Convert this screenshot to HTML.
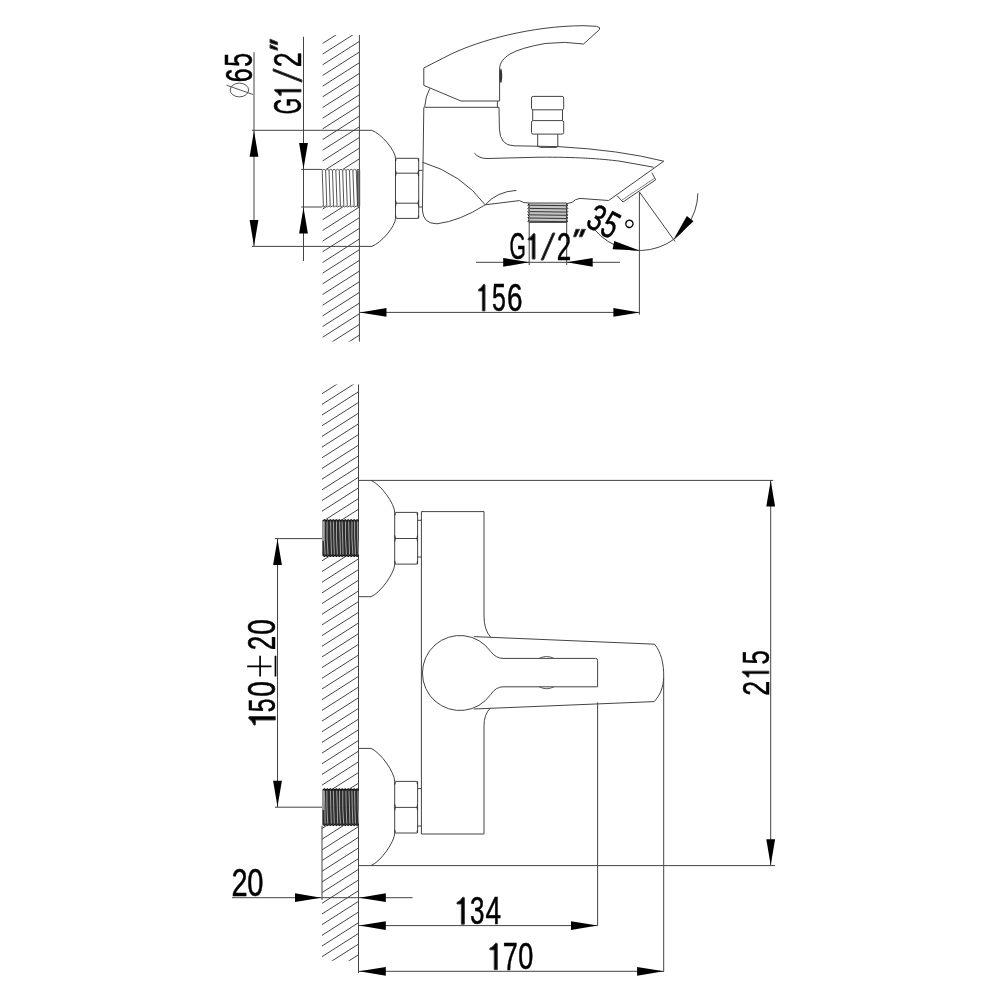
<!DOCTYPE html>
<html><head><meta charset="utf-8"><style>
html,body{margin:0;padding:0;background:#fff;}
svg{display:block;will-change:transform;}
.t text{font-family:"Liberation Sans",sans-serif;font-size:100px;fill:#000;stroke:#000;stroke-width:0.45px;vector-effect:non-scaling-stroke;}
</style></head><body>
<svg width="1000" height="1000" viewBox="0 0 1000 1000">
<rect width="1000" height="1000" fill="#fff"/>
<g fill="none" stroke="#444" stroke-width="1" stroke-linejoin="round">
<clipPath id="c0"><rect x="322.4" y="35" width="37" height="134.3"/></clipPath>
<path clip-path="url(#c0)" d="M322.4 22.24L359.4 -1.36M322.4 32.92L359.4 9.32M322.4 43.6L359.4 20M322.4 54.28L359.4 30.68M322.4 64.96L359.4 41.36M322.4 75.64L359.4 52.04M322.4 86.32L359.4 62.72M322.4 97L359.4 73.4M322.4 107.68L359.4 84.08M322.4 118.36L359.4 94.76M322.4 129.04L359.4 105.44M322.4 139.72L359.4 116.12M322.4 150.4L359.4 126.8M322.4 161.08L359.4 137.48M322.4 171.76L359.4 148.16M322.4 182.44L359.4 158.84M322.4 193.12L359.4 169.52M322.4 203.8L359.4 180.2" stroke="#3a3a3a" stroke-width="0.95"/>
<clipPath id="c2"><rect x="322.4" y="207" width="37" height="134.6"/></clipPath>
<path clip-path="url(#c2)" d="M322.4 187.86L359.4 164.26M322.4 198.54L359.4 174.94M322.4 209.22L359.4 185.62M322.4 219.9L359.4 196.3M322.4 230.58L359.4 206.98M322.4 241.26L359.4 217.66M322.4 251.94L359.4 228.34M322.4 262.62L359.4 239.02M322.4 273.3L359.4 249.7M322.4 283.98L359.4 260.38M322.4 294.66L359.4 271.06M322.4 305.34L359.4 281.74M322.4 316.02L359.4 292.42M322.4 326.7L359.4 303.1M322.4 337.38L359.4 313.78M322.4 348.06L359.4 324.46M322.4 358.74L359.4 335.14M322.4 369.42L359.4 345.82M322.4 380.1L359.4 356.5" stroke="#3a3a3a" stroke-width="0.95"/>
<line x1="359.4" y1="35" x2="359.4" y2="341.6"/>
<path d="M322.2 170.3L323.9 169.3L325.61 170.3L327.31 169.3L329.02 170.3L330.72 169.3L332.43 170.3L334.13 169.3L335.84 170.3L337.54 169.3L339.25 170.3L340.95 169.3L342.65 170.3L344.36 169.3L346.06 170.3L347.77 169.3L349.47 170.3L351.18 169.3L352.88 170.3L354.59 169.3L356.29 170.3L358 169.3L359.7 170.3M322.2 206L323.9 207L325.61 206L327.31 207L329.02 206L330.72 207L332.43 206L334.13 207L335.84 206L337.54 207L339.25 206L340.95 207L342.65 206L344.36 207L346.06 206L347.77 207L349.47 206L351.18 207L352.88 206L354.59 207L356.29 206L358 207L359.7 206" stroke="#555"/>
<path d="M322.2 170.3L323.4 206M325.61 170.3L326.81 206M329.02 170.3L330.22 206M332.43 170.3L333.63 206M335.84 170.3L337.04 206M339.25 170.3L340.45 206M342.65 170.3L343.85 206M346.06 170.3L347.26 206M349.47 170.3L350.67 206M352.88 170.3L354.08 206M356.29 170.3L357.49 206M359.7 170.3L359.7 206" stroke="#555"/>
<rect x="357.1" y="170.3" width="1.6" height="35.7" fill="#444" stroke="none"/>
<line x1="252" y1="130.3" x2="371.7" y2="130.3"/>
<line x1="252" y1="246.4" x2="372" y2="246.4"/>
<line x1="301.2" y1="169.4" x2="322.2" y2="169.4"/>
<line x1="301.2" y1="207" x2="322.2" y2="207"/>
<line x1="254" y1="52.2" x2="254" y2="246.4"/>
<polygon points="254,130.8 258.4,156.8 249.6,156.8" fill="#000" stroke="none"/>
<polygon points="254,246 249.6,220 258.4,220" fill="#000" stroke="none"/>
<line x1="303.5" y1="36.8" x2="303.5" y2="261"/>
<polygon points="303.5,169 299.1,143 307.9,143" fill="#000" stroke="none"/>
<polygon points="303.5,207.4 307.9,233.4 299.1,233.4" fill="#000" stroke="none"/>
<path d="M371.7 130.3C381.62 133.8 395.5 150.85 395.5 158.3"/>
<path d="M395.5 218.4C395.5 225.85 381.62 242.9 371.7 246.4"/>
<rect x="395.5" y="158.3" width="23.2" height="60.1" rx="0.8"/>
<line x1="395.5" y1="173.2" x2="418.7" y2="173.2"/>
<line x1="395.5" y1="203.2" x2="418.7" y2="203.2"/>
<path d="M395.5 158.3Q396.5 159.5 395.5 161.3M418.7 158.3Q417.7 159.5 418.7 161.3M395.5 170.2Q396.8 173.2 395.5 176.2M418.7 170.2Q417.4 173.2 418.7 176.2M395.5 200.2Q396.8 203.2 395.5 206.2M418.7 200.2Q417.4 203.2 418.7 206.2M395.5 218.4Q396.5 217.2 395.5 215.4M418.7 218.4Q417.7 217.2 418.7 215.4" stroke="#333" stroke-width="1.1"/>
<path d="M418.7 170.4H422.4M418.7 207H422.4"/>
<path d="M423.8 107.3L422.4 210Q423 223.8 437 223.8Q460 221 485.2 204.8"/>
<path d="M422.4 162.2Q462 174 485.2 204.8"/>
<path d="M485.2 204.8Q497 191.4 516.4 190.4"/>
<path d="M485.2 204.8L519.4 200.6L524 202.6L529 203"/>
<line x1="424.6" y1="107.3" x2="499" y2="107.3"/>
<path d="M429.8 88.4Q425.5 96 424.6 107.3"/>
<path d="M499 107.3L499.4 129Q500 145.6 514 145.8L558 146.6Q620 150 663.8 161.2"/>
<path d="M474.4 153.2Q479 158.6 487 158.5L540 157.2C575 157 600 158.6 620 161.2L653.6 167.2"/>
<path d="M663.8 161.2L608.6 200.5L580 198.4Q575 199 572 202.4L566.6 203.6"/>
<path d="M617 195.7L623 202L655.7 179.8L651.8 172.6"/>
<line x1="621.8" y1="200.2" x2="654.6" y2="178.2" stroke="#666" stroke-width="0.8"/>
<rect x="529" y="203.4" width="37.6" height="19" fill="#c4c4c4" stroke="none"/>
<path d="M529 203H566.6V222.4H529Z"/>
<path d="M529.5 205.2L566.2 205.7M529.5 208.4L566.2 208.9M529.5 211.6L566.2 212.1M529.5 214.8L566.2 215.3M529.5 218L566.2 218.5M529.5 221.2L566.2 221.7" stroke="#333"/>
<path d="M529 204L527.8 205.2L529 206.4M566.6 204L567.8 205.2L566.6 206.4M529 207.2L527.8 208.4L529 209.6M566.6 207.2L567.8 208.4L566.6 209.6M529 210.4L527.8 211.6L529 212.8M566.6 210.4L567.8 211.6L566.6 212.8M529 213.6L527.8 214.8L529 216M566.6 213.6L567.8 214.8L566.6 216M529 216.8L527.8 218L529 219.2M566.6 216.8L567.8 218L566.6 219.2M529 220L527.8 221.2L529 222.4M566.6 220L567.8 221.2L566.6 222.4" stroke="#222"/>
<path d="M423.8 68L450 54.6C480 40 532 26 583 25.7L596.5 26.3Q601 27.3 599.5 29.5L583.6 44Q565 41 545 43.5Q520 48 510 54Q500 60 499.6 68V101H461L423.8 85.4Z"/>
<ellipse cx="500.9" cy="75.8" rx="1.3" ry="7.2" fill="#333" stroke="none"/>
<line x1="497.4" y1="101" x2="497.4" y2="107.3"/>
<rect x="531.5" y="96.4" width="32.2" height="13.4" rx="1.6"/>
<rect x="531.5" y="120.6" width="32.2" height="13.5" rx="1.6"/>
<path d="M532.7 109.8V120.6M562.5 109.8V120.6"/>
<path d="M537.7 134.1V146.4L541 147.4H556.5L557.8 146.4V134.1"/>
<line x1="529.2" y1="222.6" x2="529.2" y2="265"/>
<line x1="566.7" y1="203.6" x2="566.7" y2="265"/>
<line x1="476" y1="262.3" x2="620" y2="262.3"/>
<polygon points="529.2,262.3 503.2,266.7 503.2,257.9" fill="#000" stroke="none"/>
<polygon points="566.7,262.3 592.7,257.9 592.7,266.7" fill="#000" stroke="none"/>
<g class="t"><text transform="matrix(0.21 0 0 0.37 509.43 259.13)">G</text><polygon points="533.6,233.5 534.65,233.63 535,234.26 535,259 532.2,259 532.2,240 528.28,239.88 528,239.24 528.35,238.34 531.15,236.69 532.62,234.52" fill="#000"/><polygon points="541,260 543.3,260 555,233 552.7,233" fill="#000"/><text transform="matrix(0.26 0 0 0.38 556.68 259.5)">2</text><polygon points="575.88,229.3 579.62,229.3 575.88,236.8 573.5,236.8" fill="#000"/><polygon points="581.62,229.3 585.5,229.3 582.12,236.8 579.25,236.8" fill="#000"/></g>
<line x1="639.4" y1="192" x2="639.4" y2="314.7"/>
<line x1="639.4" y1="192" x2="675" y2="241.5"/>
<path d="M594.7 229.75A58.5 58.5 0 0 0 697.9 193.3" />
<polygon points="639.4,250.4 612.58,249.37 614.25,241.04" fill="#000" stroke="none"/>
<polygon points="673.4,239.7 686.87,215.92 693.53,221.21" fill="#000" stroke="none"/>
<g class="t" transform="translate(596.8 217.6) rotate(28)"><text transform="matrix(0.27 0 0 0.37 -7.48 12.93)">3</text><text transform="matrix(0.26 0 0 0.38 8.56 12.92)">5</text><circle cx="31.7" cy="-9.8" r="3.6" fill="none" stroke="#000" stroke-width="1.4"/></g>
<line x1="359.4" y1="312.4" x2="639.4" y2="312.4"/>
<polygon points="359.9,312.4 386.5,308 386.5,316.8" fill="#000" stroke="none"/>
<polygon points="639.4,312.4 613.4,316.8 613.4,308" fill="#000" stroke="none"/>
<g class="t"><polygon points="483.68,284.3 484.67,284.43 485,285.1 485,310.9 482.36,310.9 482.36,291.08 478.66,290.95 478.4,290.29 478.73,289.35 481.37,287.62 482.76,285.36" fill="#000"/><text transform="matrix(0.25 0 0 0.38 492.11 310.82)">5</text><text transform="matrix(0.28 0 0 0.38 507.01 310.82)">6</text></g>
<g class="t" transform="rotate(-90)"><text transform="matrix(0.25 0 0 0.37 -82.26 252.33)">6</text><text transform="matrix(0.25 0 0 0.38 -66.69 252.32)">5</text></g>
<ellipse cx="239.4" cy="90" rx="9.2" ry="6.9" fill="none" stroke="#444" stroke-width="0.9"/>
<line x1="226.6" y1="85.2" x2="253" y2="94.5" stroke="#444" stroke-width="0.9"/>
<g class="t" transform="rotate(-90)"><text transform="matrix(0.21 0 0 0.38 -114.33 301.02)">G</text><polygon points="-90.66,274.5 -89.72,274.63 -89.4,275.3 -89.4,301 -91.92,301 -91.92,281.26 -95.45,281.12 -95.7,280.46 -95.39,279.54 -92.87,277.81 -91.54,275.56" fill="#000"/><polygon points="-82.2,301.9 -79.9,301.9 -68.7,273.1 -71,273.1" fill="#000"/><text transform="matrix(0.27 0 0 0.38 -67.33 301)">2</text><polygon points="-48.08,270 -44.57,270 -48.08,277.6 -50.3,277.6" fill="#000"/><polygon points="-42.7,270 -39.07,270 -42.23,277.6 -44.92,277.6" fill="#000"/></g>
<clipPath id="c67"><rect x="322" y="384.4" width="36.5" height="135.2"/></clipPath>
<path clip-path="url(#c67)" d="M322 372.34L358.5 349.06M322 383.02L358.5 359.74M322 393.7L358.5 370.42M322 404.38L358.5 381.1M322 415.06L358.5 391.78M322 425.74L358.5 402.46M322 436.42L358.5 413.14M322 447.1L358.5 423.82M322 457.78L358.5 434.5M322 468.46L358.5 445.18M322 479.14L358.5 455.86M322 489.82L358.5 466.54M322 500.5L358.5 477.22M322 511.18L358.5 487.9M322 521.86L358.5 498.58M322 532.54L358.5 509.26M322 543.22L358.5 519.94M322 553.9L358.5 530.62" stroke="#3a3a3a" stroke-width="0.95"/>
<clipPath id="c69"><rect x="322" y="556.5" width="36.5" height="232.3"/></clipPath>
<path clip-path="url(#c69)" d="M322 539.46L358.5 516.18M322 550.14L358.5 526.86M322 560.82L358.5 537.54M322 571.5L358.5 548.22M322 582.18L358.5 558.9M322 592.86L358.5 569.58M322 603.54L358.5 580.26M322 614.22L358.5 590.94M322 624.9L358.5 601.62M322 635.58L358.5 612.3M322 646.26L358.5 622.98M322 656.94L358.5 633.66M322 667.62L358.5 644.34M322 678.3L358.5 655.02M322 688.98L358.5 665.7M322 699.66L358.5 676.38M322 710.34L358.5 687.06M322 721.02L358.5 697.74M322 731.7L358.5 708.42M322 742.38L358.5 719.1M322 753.06L358.5 729.78M322 763.74L358.5 740.46M322 774.42L358.5 751.14M322 785.1L358.5 761.82M322 795.78L358.5 772.5M322 806.46L358.5 783.18M322 817.14L358.5 793.86M322 827.82L358.5 804.54" stroke="#3a3a3a" stroke-width="0.95"/>
<clipPath id="c71"><rect x="322" y="825.6" width="36.5" height="135.2"/></clipPath>
<path clip-path="url(#c71)" d="M322 807.16L358.5 783.88M322 817.84L358.5 794.56M322 828.52L358.5 805.24M322 839.2L358.5 815.92M322 849.88L358.5 826.6M322 860.56L358.5 837.28M322 871.24L358.5 847.96M322 881.92L358.5 858.64M322 892.6L358.5 869.32M322 903.28L358.5 880M322 913.96L358.5 890.68M322 924.64L358.5 901.36M322 935.32L358.5 912.04M322 946L358.5 922.72M322 956.68L358.5 933.4M322 967.36L358.5 944.08M322 978.04L358.5 954.76M322 988.72L358.5 965.44M322 999.4L358.5 976.12" stroke="#3a3a3a" stroke-width="0.95"/>
<line x1="358.5" y1="384.4" x2="358.5" y2="973"/>
<rect x="322.3" y="520.4" width="36.3" height="35.3" fill="#2e2e2e" stroke="none"/>
<rect x="322" y="520.6" width="2.2" height="20.29" fill="#9a9a9a" stroke="none"/>
<path d="M323 520.8L324.48 519.6L325.97 520.8L327.45 519.6L328.93 520.8L330.42 519.6L331.9 520.8L333.38 519.6L334.87 520.8L336.35 519.6L337.83 520.8L339.32 519.6L340.8 520.8L342.28 519.6L343.77 520.8L345.25 519.6L346.73 520.8L348.22 519.6L349.7 520.8L351.18 519.6L352.67 520.8L354.15 519.6L355.63 520.8L357.12 519.6L358.6 520.8M323 555.3L324.48 556.5L325.97 555.3L327.45 556.5L328.93 555.3L330.42 556.5L331.9 555.3L333.38 556.5L334.87 555.3L336.35 556.5L337.83 555.3L339.32 556.5L340.8 555.3L342.28 556.5L343.77 555.3L345.25 556.5L346.73 555.3L348.22 556.5L349.7 555.3L351.18 556.5L352.67 555.3L354.15 556.5L355.63 555.3L357.12 556.5L358.6 555.3" stroke="#111" stroke-width="1.1"/>
<path d="M324.28 521.6Q323.53 538.05 325.18 554.5M327.11 521.6Q326.52 538.05 328.01 554.5M330.67 521.6Q330.77 538.05 331.57 554.5M333.43 521.6Q333.61 538.05 334.33 554.5M336.52 521.6Q335.95 538.05 337.42 554.5M339.64 521.6Q340.19 538.05 340.54 554.5M342.12 521.6Q342.73 538.05 343.02 554.5M345.48 521.6Q345.16 538.05 346.38 554.5M348.65 521.6Q348.97 538.05 349.55 554.5M351.99 521.6Q351.35 538.05 352.89 554.5M354.61 521.6Q354.34 538.05 355.51 554.5M357.56 521.6Q357.36 538.05 358.46 554.5" stroke="#c8c8c8" stroke-width="0.75"/>
<rect x="322.3" y="789.6" width="36.3" height="35.2" fill="#2e2e2e" stroke="none"/>
<rect x="322" y="789.8" width="2.2" height="20.24" fill="#9a9a9a" stroke="none"/>
<path d="M323 790L324.48 788.8L325.97 790L327.45 788.8L328.93 790L330.42 788.8L331.9 790L333.38 788.8L334.87 790L336.35 788.8L337.83 790L339.32 788.8L340.8 790L342.28 788.8L343.77 790L345.25 788.8L346.73 790L348.22 788.8L349.7 790L351.18 788.8L352.67 790L354.15 788.8L355.63 790L357.12 788.8L358.6 790M323 824.4L324.48 825.6L325.97 824.4L327.45 825.6L328.93 824.4L330.42 825.6L331.9 824.4L333.38 825.6L334.87 824.4L336.35 825.6L337.83 824.4L339.32 825.6L340.8 824.4L342.28 825.6L343.77 824.4L345.25 825.6L346.73 824.4L348.22 825.6L349.7 824.4L351.18 825.6L352.67 824.4L354.15 825.6L355.63 824.4L357.12 825.6L358.6 824.4" stroke="#111" stroke-width="1.1"/>
<path d="M324.27 790.8Q324.96 807.2 325.17 823.6M326.86 790.8Q326.63 807.2 327.76 823.6M330.42 790.8Q330.74 807.2 331.32 823.6M333.37 790.8Q333.58 807.2 334.27 823.6M336.78 790.8Q337.24 807.2 337.68 823.6M339.55 790.8Q339.14 807.2 340.45 823.6M342.76 790.8Q342.33 807.2 343.66 823.6M345.9 790.8Q346.01 807.2 346.8 823.6M348.97 790.8Q349.56 807.2 349.87 823.6M351.93 790.8Q352.07 807.2 352.83 823.6M354.59 790.8Q354.8 807.2 355.49 823.6M358 790.8Q357.8 807.2 358.9 823.6" stroke="#c8c8c8" stroke-width="0.75"/>
<line x1="322" y1="825.6" x2="322" y2="900"/>
<line x1="358.5" y1="480.4" x2="773.2" y2="480.4"/>
<line x1="358.5" y1="865.6" x2="775" y2="865.6"/>
<line x1="358.5" y1="596.7" x2="371" y2="596.7"/>
<path d="M371 480.4C380.88 484.4 394.7 503.89 394.7 512.4"/>
<path d="M394.7 564.1C394.7 572.77 380.88 592.62 371 596.7"/>
<line x1="358.5" y1="748.4" x2="371" y2="748.4"/>
<path d="M371 748.4C380.88 752.52 394.7 772.62 394.7 781.4"/>
<path d="M394.7 833C394.7 841.67 380.88 861.52 371 865.6"/>
<rect x="394.7" y="512.4" width="22.9" height="51.7" rx="0.8"/>
<line x1="394.7" y1="538.5" x2="417.6" y2="538.5"/>
<path d="M394.7 512.4Q395.7 513.6 394.7 515.4M417.6 512.4Q416.6 513.6 417.6 515.4M394.7 535.5Q396 538.5 394.7 541.5M417.6 535.5Q416.3 538.5 417.6 541.5M394.7 564.1Q395.7 562.9 394.7 561.1M417.6 564.1Q416.6 562.9 417.6 561.1" stroke="#333" stroke-width="1.1"/>
<path d="M417.6 520.3H421.4M417.6 557H421.4"/>
<rect x="394.7" y="781.4" width="22.9" height="51.6" rx="0.8"/>
<line x1="394.7" y1="807.4" x2="417.6" y2="807.4"/>
<path d="M394.7 781.4Q395.7 782.6 394.7 784.4M417.6 781.4Q416.6 782.6 417.6 784.4M394.7 804.4Q396 807.4 394.7 810.4M417.6 804.4Q416.3 807.4 417.6 810.4M394.7 833Q395.7 831.8 394.7 830M417.6 833Q416.6 831.8 417.6 830" stroke="#333" stroke-width="1.1"/>
<path d="M417.6 788.6H421.4M417.6 826H421.4"/>
<path d="M484 616V511.6H421.4V834H484V726"/>
<path d="M484 616Q484 630 490.6 637"/>
<path d="M484 726Q484 714 490.6 707.8"/>
<path d="M490.6 651.4A37.5 37.5 0 1 0 490.6 694.6"/>
<path d="M490.6 651.4Q496 658.4 503 658.4H595.6Q597.6 658.4 597.6 660.4V686.8H503Q496 686.8 490.6 694.6"/>
<path d="M473.8 636.6L654.6 644.2C661 652 664 664 663.7 677C663.4 688 660 695 654.2 701.6L473.8 709"/>
<path d="M539.2 658.4Q546.6 654.6 554 658.4M539.2 686.8Q546.6 690.6 554 686.8" stroke="#555"/>
<line x1="597.6" y1="702.3" x2="597.6" y2="925.7"/>
<line x1="663.7" y1="678" x2="663.7" y2="971.6"/>
<line x1="770.7" y1="480.2" x2="770.7" y2="865.6"/>
<polygon points="770.7,480.6 775.1,506.6 766.3,506.6" fill="#000" stroke="none"/>
<polygon points="770.7,865.2 766.3,839.2 775.1,839.2" fill="#000" stroke="none"/>
<g class="t" transform="rotate(-90)"><text transform="matrix(0.27 0 0 0.37 -695.65 768.9)">2</text><polygon points="-672.4,742.2 -671.5,742.33 -671.2,743 -671.2,768.9 -673.6,768.9 -673.6,749.01 -676.96,748.88 -677.2,748.21 -676.9,747.27 -674.5,745.54 -673.24,743.27" fill="#000"/><text transform="matrix(0.26 0 0 0.37 -664.44 768.63)">5</text></g>
<line x1="275" y1="538.6" x2="322" y2="538.6"/>
<line x1="275" y1="807.2" x2="322" y2="807.2"/>
<line x1="277.5" y1="538.6" x2="277.5" y2="807.2"/>
<polygon points="277.5,539 281.9,565 273.1,565" fill="#000" stroke="none"/>
<polygon points="277.5,806.8 273.1,780.8 281.9,780.8" fill="#000" stroke="none"/>
<g class="t" transform="rotate(-90)"><polygon points="-718.24,248.7 -716.93,248.83 -716.5,249.5 -716.5,275.3 -719.98,275.3 -719.98,255.48 -724.85,255.35 -725.2,254.69 -724.77,253.75 -721.29,252.02 -719.46,249.76" fill="#000"/><text transform="matrix(0.25 0 0 0.37 -712.21 275.13)">5</text><text transform="matrix(0.28 0 0 0.38 -696.7 275.32)">0</text><text transform="matrix(0.26 0 0 0.38 -650.22 275.1)">2</text><text transform="matrix(0.28 0 0 0.38 -634.73 275.32)">0</text></g>
<path d="M247.2 666.3H271.5M260.1 655.8V676.4M275.5 655.8V676.4" stroke="#000" stroke-width="1.7"/>
<line x1="232" y1="897.7" x2="412.6" y2="897.7"/>
<polygon points="321.2,897.7 295,902.1 295,893.3" fill="#000" stroke="none"/>
<polygon points="359.2,897.7 385.8,893.3 385.8,902.1" fill="#000" stroke="none"/>
<g class="t"><text transform="matrix(0.29 0 0 0.38 231.57 895.8)">2</text><text transform="matrix(0.29 0 0 0.38 247.36 895.92)">0</text></g>
<line x1="358.5" y1="925.6" x2="597.6" y2="925.6"/>
<polygon points="359.2,925.6 385.8,921.2 385.8,930" fill="#000" stroke="none"/>
<polygon points="597.6,925.6 571,930 571,921.2" fill="#000" stroke="none"/>
<g class="t"><polygon points="462.88,897.2 464.02,897.34 464.4,898.01 464.4,924.2 461.36,924.2 461.36,904.09 457.1,903.95 456.8,903.28 457.18,902.33 460.22,900.58 461.82,898.28" fill="#000"/><text transform="matrix(0.26 0 0 0.38 469.95 924.22)">3</text><text transform="matrix(0.28 0 0 0.38 485.45 924)">4</text></g>
<line x1="358.5" y1="971.3" x2="663.7" y2="971.3"/>
<polygon points="359.2,971.3 385.8,966.9 385.8,975.7" fill="#000" stroke="none"/>
<polygon points="663.7,971.3 637.1,975.7 637.1,966.9" fill="#000" stroke="none"/>
<g class="t"><polygon points="495.76,943.1 496.92,943.23 497.3,943.9 497.3,969.7 494.22,969.7 494.22,949.88 489.91,949.75 489.6,949.09 489.99,948.15 493.06,946.43 494.68,944.16" fill="#000"/><text transform="matrix(0.27 0 0 0.39 502.66 969.7)">7</text><text transform="matrix(0.27 0 0 0.37 518.21 969.33)">0</text></g>
</g>
</svg>
</body></html>
